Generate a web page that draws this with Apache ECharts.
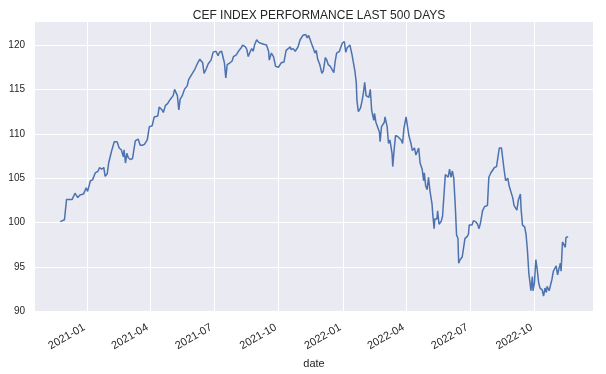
<!DOCTYPE html>
<html>
<head>
<meta charset="utf-8">
<script src="https://cdn.jsdelivr.net/npm/echarts@6/dist/echarts.min.js"></script>
<style>
html,body{margin:0;padding:0;background:#ffffff;}
#chart{width:606px;height:374px;}
</style>
</head>
<body>
<div id="chart"></div>
<script>
const titleText = 'CEF INDEX PERFORMANCE LAST 500 DAYS';
const xAxisName = 'date';
const xTickDates = ['2021-01-01','2021-04-01','2021-07-01','2021-10-01','2022-01-01','2022-04-01','2022-07-01','2022-10-01'];
const yTicks = [90, 95, 100, 105, 110, 115, 120];

const dates = [
'2020-11-24','2020-11-26','2020-11-30','2020-12-03','2020-12-06','2020-12-08','2020-12-11','2020-12-15','2020-12-19','2020-12-22','2020-12-27','2020-12-31',
'2021-01-02','2021-01-06','2021-01-09','2021-01-13','2021-01-17','2021-01-19','2021-01-22','2021-01-25','2021-01-27','2021-01-30',
'2021-02-01','2021-02-05','2021-02-09','2021-02-13','2021-02-16','2021-02-19','2021-02-22','2021-02-23','2021-02-25','2021-02-27',
'2021-03-01','2021-03-04','2021-03-07','2021-03-11','2021-03-15','2021-03-18','2021-03-21','2021-03-24','2021-03-28','2021-03-31',
'2021-04-04','2021-04-07','2021-04-12','2021-04-14','2021-04-18','2021-04-20','2021-04-23','2021-04-26','2021-04-30',
'2021-05-04','2021-05-06','2021-05-08','2021-05-10','2021-05-12','2021-05-14','2021-05-17','2021-05-20','2021-05-24','2021-05-26','2021-05-29',
'2021-06-01','2021-06-04','2021-06-08','2021-06-11','2021-06-13','2021-06-15','2021-06-17','2021-06-20','2021-06-23','2021-06-27','2021-06-30',
'2021-07-04','2021-07-07','2021-07-09','2021-07-12','2021-07-16','2021-07-18','2021-07-20','2021-07-24','2021-07-27','2021-07-29',
'2021-08-02','2021-08-05','2021-08-09','2021-08-11','2021-08-15','2021-08-17','2021-08-19','2021-08-22','2021-08-24','2021-08-26','2021-08-28','2021-08-31',
'2021-09-03','2021-09-06','2021-09-10','2021-09-12','2021-09-14','2021-09-15','2021-09-17','2021-09-18','2021-09-21','2021-09-24','2021-09-27',
'2021-10-01','2021-10-03','2021-10-05','2021-10-09','2021-10-12','2021-10-15','2021-10-18','2021-10-19','2021-10-22','2021-10-25','2021-10-29',
'2021-11-01','2021-11-05','2021-11-07','2021-11-09','2021-11-11','2021-11-13','2021-11-15','2021-11-18','2021-11-20','2021-11-22','2021-11-24','2021-11-26','2021-11-29',
'2021-12-02','2021-12-04','2021-12-07','2021-12-09','2021-12-11','2021-12-14','2021-12-16','2021-12-19','2021-12-21','2021-12-23','2021-12-27','2021-12-29','2021-12-31',
'2022-01-03','2022-01-05','2022-01-07','2022-01-09','2022-01-11','2022-01-14','2022-01-16','2022-01-18','2022-01-20','2022-01-21','2022-01-23','2022-01-26','2022-01-28','2022-01-30',
'2022-02-01','2022-02-03','2022-02-05','2022-02-07','2022-02-09','2022-02-11','2022-02-14','2022-02-15','2022-02-17','2022-02-19','2022-02-22','2022-02-23','2022-02-25','2022-02-27',
'2022-03-01','2022-03-02','2022-03-05','2022-03-07','2022-03-09','2022-03-12','2022-03-13','2022-03-15','2022-03-17','2022-03-20','2022-03-22','2022-03-25','2022-03-27','2022-03-29',
'2022-04-01','2022-04-03','2022-04-05','2022-04-08','2022-04-10','2022-04-13','2022-04-15','2022-04-17','2022-04-19','2022-04-21','2022-04-24','2022-04-26','2022-04-27','2022-04-29',
'2022-05-01','2022-05-03','2022-05-05','2022-05-08','2022-05-09','2022-05-11','2022-05-12','2022-05-15','2022-05-16','2022-05-18','2022-05-21','2022-05-23','2022-05-27','2022-05-29','2022-05-31',
'2022-06-02','2022-06-04','2022-06-06','2022-06-08','2022-06-10','2022-06-12','2022-06-14','2022-06-15','2022-06-17','2022-06-20','2022-06-22','2022-06-24','2022-06-27','2022-06-29','2022-06-30',
'2022-07-04','2022-07-06','2022-07-09','2022-07-12','2022-07-14','2022-07-16','2022-07-18','2022-07-19','2022-07-22','2022-07-24','2022-07-26','2022-07-28','2022-07-31',
'2022-08-02','2022-08-05','2022-08-06','2022-08-08','2022-08-10','2022-08-12','2022-08-15','2022-08-17','2022-08-19','2022-08-21','2022-08-24','2022-08-26','2022-08-28','2022-08-31',
'2022-09-02','2022-09-04','2022-09-06','2022-09-08','2022-09-11','2022-09-12','2022-09-14','2022-09-17','2022-09-19','2022-09-21','2022-09-23','2022-09-25','2022-09-26','2022-09-28','2022-09-29',
'2022-10-01','2022-10-03','2022-10-05','2022-10-07','2022-10-09','2022-10-12','2022-10-14','2022-10-16','2022-10-18','2022-10-19','2022-10-22','2022-10-23','2022-10-26','2022-10-28','2022-10-30',
'2022-11-01','2022-11-03','2022-11-05','2022-11-07','2022-11-08','2022-11-10','2022-11-12','2022-11-14','2022-11-15','2022-11-18'
];

const values = [
100.1,100.3,100.3,102.6,102.6,102.8,102.6,103.3,102.8,103.1,103.2,103.9,
103.5,104.7,104.8,105.6,105.8,106.2,106.0,106.2,105.2,105.5,
106.7,108.0,109.1,109.1,108.4,108.2,107.4,108.2,106.7,107.8,
107.3,107.1,107.2,109.2,109.4,108.7,108.7,108.8,109.3,110.8,
110.9,111.9,112.0,113.0,112.7,112.4,113.2,113.4,113.9,
114.3,115.0,115.0,114.3,112.7,113.9,114.3,115.0,115.4,116.1,116.5,
116.9,117.3,118.0,118.4,118.4,118.0,116.8,117.3,117.9,118.3,119.2,
119.3,118.8,119.2,119.3,118.0,116.3,117.8,118.0,118.2,118.7,
118.9,119.3,119.7,120.0,119.8,119.5,118.7,119.3,119.6,119.3,120.0,120.6,
120.3,120.2,120.1,120.3,120.0,120.2,119.3,118.3,119.1,118.7,117.6,
117.5,117.4,118.0,118.1,119.4,119.6,119.8,119.5,119.6,119.3,119.8,
120.6,121.1,121.0,121.2,120.8,121.1,121.0,120.0,119.6,119.1,119.4,118.4,117.8,
116.8,117.1,118.6,118.3,117.8,117.6,117.8,116.9,118.2,119.1,119.3,119.5,120.2,
120.4,119.2,119.7,119.5,120.0,118.9,118.0,117.1,115.8,113.7,112.5,112.9,113.6,114.5,
115.8,114.3,114.3,114.1,115.0,112.6,111.5,112.3,111.3,111.1,110.2,109.1,110.8,111.0,
111.3,111.9,110.8,108.9,109.3,107.8,106.3,108.2,109.8,109.7,109.8,109.3,108.9,110.6,
111.9,112.1,109.8,108.9,108.1,108.4,107.6,107.4,108.4,106.7,106.0,104.7,105.6,104.1,
103.7,105.1,103.6,102.1,101.0,99.3,100.4,100.4,101.3,99.8,100.1,100.7,105.4,105.2,105.1,
106.0,105.1,105.8,105.0,102.1,98.6,98.2,95.4,95.8,96.1,96.3,98.2,98.4,98.7,99.7,
99.7,100.2,100.1,99.8,99.3,99.9,99.8,101.3,101.8,101.8,101.9,105.1,105.6,
105.8,106.2,106.0,106.3,107.4,108.4,108.4,107.1,105.8,104.7,105.0,104.1,103.9,102.8,
101.9,101.7,101.4,102.5,103.2,101.5,99.7,99.5,98.7,96.9,94.3,93.0,92.3,93.9,92.3,
93.2,95.8,94.7,93.2,92.6,92.4,91.7,92.6,92.1,92.8,92.3,92.3,93.6,94.5,94.5,
95.1,94.1,94.8,95.4,94.5,97.8,97.6,97.2,98.3,98.4
];

function ts(d) { return new Date(d + 'T00:00:00Z').getTime(); }
const seriesData = dates.map((d, i) => [ts(d), values[i]]);
const xTickValues = xTickDates.map(ts);
const FONT = '"Liberation Sans", Arial, sans-serif';
const TXT = '#262626';

const chart = echarts.init(document.getElementById('chart'), null, {renderer: 'canvas'});
chart.setOption({
  animation: false,
  backgroundColor: '#ffffff',
  title: {
    text: titleText,
    left: 314,
    textAlign: 'center',
    top: 5,
    textStyle: {fontFamily: FONT, fontSize: 12, fontWeight: 'normal', color: TXT}
  },
  grid: {left: 35, right: 13, top: 22, bottom: 59, containLabel: false,
         show: true, backgroundColor: '#EAEAF2', borderWidth: 0},
  xAxis: {
    type: 'value',
    min: ts('2020-10-19'),
    max: ts('2022-12-23') + 12 * 3600 * 1000,
    name: xAxisName,
    nameLocation: 'middle',
    nameGap: 42,
    nameTextStyle: {fontFamily: FONT, fontSize: 11, color: TXT},
    axisLine: {show: false},
    axisTick: {show: false, customValues: xTickValues},
    splitLine: {show: true, lineStyle: {color: '#ffffff', width: 1}},
    axisLabel: {
      customValues: xTickValues,
      rotate: 30,
      margin: 14,
      padding: [0, 3, 0, 0],
      fontFamily: FONT, fontSize: 11, color: TXT,
      formatter: function (v) {
        const d = new Date(v);
        const m = d.getUTCMonth() + 1;
        return d.getUTCFullYear() + '-' + (m < 10 ? '0' + m : m);
      }
    }
  },
  yAxis: {
    type: 'value',
    min: 90,
    max: 122.6,
    axisLine: {show: false},
    axisTick: {show: false, customValues: yTicks},
    splitLine: {show: true, lineStyle: {color: '#ffffff', width: 1}},
    axisLabel: {customValues: yTicks, margin: 10, fontFamily: FONT, fontSize: 10, color: TXT}
  },
  series: [{
    type: 'line',
    data: seriesData,
    showSymbol: false,
    lineStyle: {color: '#4C72B0', width: 1.5},
    itemStyle: {color: '#4C72B0'}
  }]
});
</script>
</body>
</html>
